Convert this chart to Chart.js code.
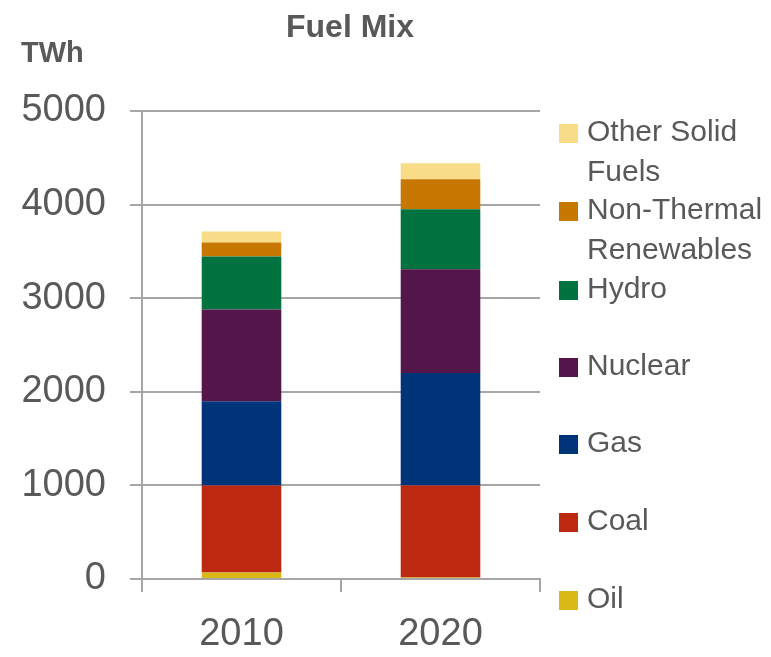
<!DOCTYPE html>
<html>
<head>
<meta charset="utf-8">
<script src="https://cdn.jsdelivr.net/npm/chart.js@4"></script>
<style>
  html, body { margin: 0; padding: 0; background: #fff; }
  #wrap { width: 771px; height: 657px; }
</style>
</head>
<body>
<div id="wrap"><canvas id="fuelChart"></canvas></div>
<script>
const years = ['2010', '2020'];
const oil = [70, 15];
const coal = [930, 985];
const gas = [900, 1200];
const nuclear = [980, 1110];
const hydro = [565, 640];
const nonThermal = [150, 320];
const otherSolid = [117, 171];
const yTicks = [0, 1000, 2000, 3000, 4000, 5000];

const textColor = '#595959';
const gridColor = '#a6a6a6';
const fontFamily = '"Liberation Sans", Arial, sans-serif';

// legend drawn by hand so that long names can wrap onto two lines
const legendPlugin = {
    id: 'sideLegend',
    afterDraw(chart) {
        const c = chart.ctx;
        const items = chart.data.datasets.slice().reverse();
        const rowY = [133, 211, 290, 367, 444, 522, 600];
        c.save();
        c.font = '30px ' + fontFamily;
        c.fillStyle = textColor;
        c.textBaseline = 'middle';
        items.forEach((ds, i) => {
            const y = rowY[i];
            c.fillStyle = ds.backgroundColor;
            c.fillRect(559, y - 9, 19, 19);
            c.fillStyle = textColor;
            ds.legendText.forEach((line, j) => {
                c.fillText(line, 587, y + j * 40);
            });
        });
        // title and unit
        c.textAlign = 'center';
        c.font = 'bold 32px ' + fontFamily;
        c.fillText('Fuel Mix', 350, 28);
        c.textAlign = 'left';
        c.font = 'bold 29px ' + fontFamily;
        c.fillText('TWh', 21, 54);
        c.restore();
    }
};

const ctx = document.getElementById('fuelChart');
const data = {
    labels: years,
    datasets: [
        { label: 'Oil', legendText: ['Oil'], data: oil, backgroundColor: '#dab917' },
        { label: 'Coal', legendText: ['Coal'], data: coal, backgroundColor: '#bd2811' },
        { label: 'Gas', legendText: ['Gas'], data: gas, backgroundColor: '#003478' },
        { label: 'Nuclear', legendText: ['Nuclear'], data: nuclear, backgroundColor: '#54154b' },
        { label: 'Hydro', legendText: ['Hydro'], data: hydro, backgroundColor: '#007340' },
        { label: 'Non-Thermal Renewables', legendText: ['Non-Thermal', 'Renewables'], data: nonThermal, backgroundColor: '#c67803' },
        { label: 'Other Solid Fuels', legendText: ['Other Solid', 'Fuels'], data: otherSolid, backgroundColor: '#f8dc88' }
    ]
};

const config = {
    type: 'bar',
    data: data,
    options: {
        responsive: false,
        animation: false,
        layout: { padding: { top: 111, right: 231, bottom: 0, left: 0 } },
        datasets: { bar: { barPercentage: 0.4, categoryPercentage: 1.0 } },
        plugins: {
            legend: { display: false },
            title: { display: false },
            tooltip: { enabled: false }
        },
        scales: {
            x: {
                stacked: true,
                afterFit: s => { s.height = 78; },
                grid: { drawOnChartArea: false, drawTicks: true, tickLength: 13, color: gridColor, lineWidth: 2, offset: true },
                border: { color: gridColor, width: 2 },
                ticks: { color: textColor, font: { family: fontFamily, size: 38 }, padding: 20 }
            },
            y: {
                stacked: true,
                min: 0,
                max: 5000,
                afterFit: s => { s.width = 142; },
                afterBuildTicks: s => { s.ticks = yTicks.map(v => ({ value: v })); },
                grid: { color: gridColor, lineWidth: 2, tickLength: 12 },
                border: { color: gridColor, width: 2 },
                ticks: {
                    color: textColor,
                    font: { family: fontFamily, size: 38 },
                    padding: 24,
                    callback: v => String(v)
                }
            }
        }
    },
    plugins: [legendPlugin]
};

const canvas = document.getElementById('fuelChart');
canvas.width = 771;
canvas.height = 657;
const fuelChart = new Chart(ctx, config);
</script>
</body>
</html>
